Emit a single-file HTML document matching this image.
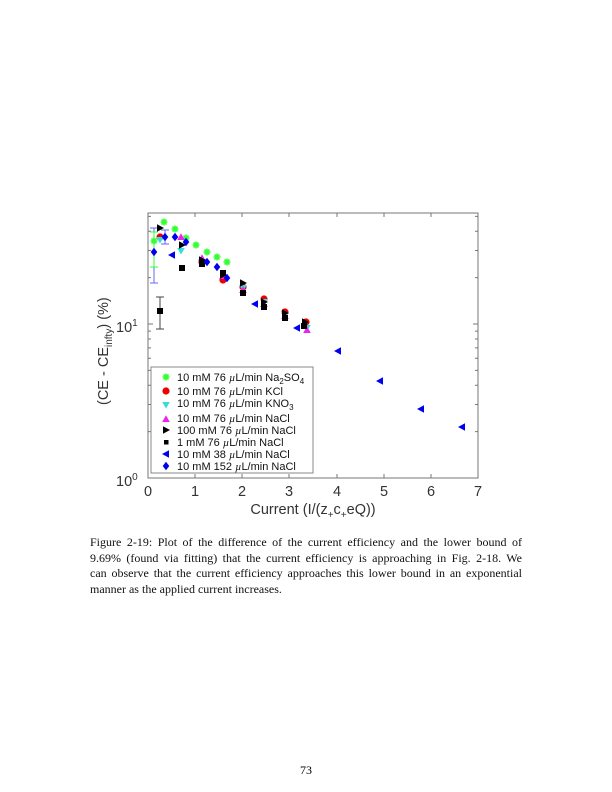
<!DOCTYPE html>
<html><head><meta charset="utf-8"><style>
body{margin:0;background:#fff;width:612px;height:792px;position:relative;overflow:hidden}
.cap{position:absolute;left:90px;top:535px;width:432px;font-family:"Liberation Serif",serif;font-size:12px;line-height:15.6px;color:#111}
.cap div{text-align:justify;text-align-last:justify;white-space:nowrap}
.cap div.l{text-align-last:left}
.pn{position:absolute;left:0;width:612px;top:763px;text-align:center;font-family:"Liberation Serif",serif;font-size:12px}
</style></head><body>
<svg width="612" height="792" style="position:absolute;left:0;top:0" font-family="Liberation Sans, sans-serif">
<defs>
<g id="st"><path d="M-3.5,0H3.5M0,-3.5V3.5M-2.5,-2.5L2.5,2.5M-2.5,2.5L2.5,-2.5" stroke="#3f3" stroke-width="1.6"/></g>
<circle id="rc" r="3.6" fill="#e00"/>
<path id="cd" d="M-3.8,-3H3.8L0,3.5Z" fill="#3dd"/>
<path id="mu" d="M-3.8,3H3.8L0,-3.8Z" fill="#e2e"/>
<path id="kr" d="M-3,-3.8L4,0L-3,3.8Z" fill="#000"/>
<rect id="ks" x="-3" y="-3" width="6" height="6" fill="#000"/>
<path id="bl" d="M3,-3.8L-4,0L3,3.8Z" fill="#00e"/>
<path id="bd" d="M0,-4.2L3.3,0L0,4.2L-3.3,0Z" fill="#00e"/>
</defs>
<rect x="148" y="213" width="330" height="265" fill="none" stroke="#777" stroke-width="1"/>
<g stroke="#777" stroke-width="1">
<path d="M195,478v-4M242,478v-4M289,478v-4M337,478v-4M384,478v-4M431,478v-4M195,213v4M242,213v4M289,213v4M337,213v4M384,213v4M431,213v4"/>
<path d="M148,324h5M478,324h-5M148,431.6h3M148,404.5h3M148,385.3h3M148,370.4h3M148,358.2h3M148,347.9h3M148,339h3M148,331.1h3M148,277.6h3M148,250.5h3M148,231.3h3M148,216.4h3M478,431.6h-3M478,404.5h-3M478,385.3h-3M478,370.4h-3M478,358.2h-3M478,347.9h-3M478,339h-3M478,331.1h-3M478,277.6h-3M478,250.5h-3M478,231.3h-3M478,216.4h-3"/>
</g>
<g font-size="14.5" fill="#333" text-anchor="middle">
<text x="148" y="496">0</text><text x="195" y="496">1</text><text x="242" y="496">2</text><text x="289" y="496">3</text><text x="337" y="496">4</text><text x="384" y="496">5</text><text x="431" y="496">6</text><text x="478" y="496">7</text>
<text x="313" y="514">Current (I/(z<tspan font-size="10" dy="4">+</tspan><tspan dy="-4">c</tspan><tspan font-size="10" dy="4">+</tspan><tspan dy="-4">eQ))</tspan></text>
</g>
<text x="116" y="486" font-size="14.5" fill="#333">10<tspan font-size="10" dy="-6">0</tspan></text>
<text x="116" y="332" font-size="14.5" fill="#333">10<tspan font-size="10" dy="-6">1</tspan></text>
<text transform="translate(108,405) rotate(-90)" font-size="14.5" fill="#333">(CE - CE<tspan font-size="10" dy="4">infty</tspan><tspan dy="-4">) (%)</tspan></text>
<g stroke-width="1">
<path d="M160,297v32M156,297h8M156,329h8" stroke="#444"/>
<path d="M154,228v55M150,228h8M150,283h8" stroke="#66f"/>
<path d="M154,232v35M150,232h8M150,267h8" stroke="#3f3"/>
<path d="M165,230v14M161,230h8M161,244h8" stroke="#66f"/>
</g>
<use href="#st" x="154" y="241"/><use href="#st" x="164" y="222"/><use href="#st" x="175" y="229"/><use href="#st" x="186" y="238"/><use href="#st" x="196" y="245"/><use href="#st" x="207" y="252"/><use href="#st" x="217" y="257"/><use href="#st" x="227" y="262"/>
<use href="#rc" x="160" y="237"/><use href="#rc" x="202" y="262"/><use href="#rc" x="223" y="280"/><use href="#rc" x="243" y="287"/><use href="#rc" x="264" y="299"/><use href="#rc" x="285" y="312"/><use href="#rc" x="306" y="322"/>
<use href="#cd" x="160" y="240"/><use href="#cd" x="181" y="251"/><use href="#cd" x="202" y="262"/><use href="#cd" x="243" y="288"/><use href="#cd" x="264" y="302"/><use href="#cd" x="285" y="315"/><use href="#cd" x="307" y="328"/>
<use href="#mu" x="181" y="237"/><use href="#mu" x="202" y="258"/><use href="#mu" x="223" y="276"/><use href="#mu" x="243" y="290"/><use href="#mu" x="264" y="304"/><use href="#mu" x="285" y="316"/><use href="#mu" x="307" y="330"/>
<use href="#kr" x="160" y="228"/><use href="#kr" x="182" y="245"/><use href="#kr" x="202" y="260"/><use href="#kr" x="223" y="275"/><use href="#kr" x="243" y="283"/><use href="#kr" x="264" y="302"/><use href="#kr" x="285" y="313"/><use href="#kr" x="305" y="322"/>
<use href="#ks" x="160" y="311"/><use href="#ks" x="182" y="268"/><use href="#ks" x="202" y="264"/><use href="#ks" x="223" y="273"/><use href="#ks" x="243" y="293"/><use href="#ks" x="264" y="307"/><use href="#ks" x="285" y="318"/><use href="#ks" x="304" y="326"/>
<use href="#bl" x="172" y="255"/><use href="#bl" x="255" y="304"/><use href="#bl" x="297" y="328"/><use href="#bl" x="338" y="351"/><use href="#bl" x="380" y="381"/><use href="#bl" x="421" y="409"/><use href="#bl" x="462" y="427"/>
<use href="#bd" x="154" y="252"/><use href="#bd" x="165" y="237"/><use href="#bd" x="175" y="237"/><use href="#bd" x="186" y="242"/><use href="#bd" x="207" y="262"/><use href="#bd" x="217" y="267"/><use href="#bd" x="227" y="278"/>
<rect x="151" y="367" width="162" height="106" fill="#fff" stroke="#888"/>
<g font-size="11" fill="#111">
<use href="#st" x="166" y="377"/><text x="177" y="381">10 mM 76 <tspan font-style="italic" font-family="Liberation Serif, serif">µ</tspan>L/min Na<tspan font-size="8" dy="3">2</tspan><tspan dy="-3">SO</tspan><tspan font-size="8" dy="3">4</tspan></text>
<use href="#rc" x="166" y="391"/><text x="177" y="395">10 mM 76 <tspan font-style="italic" font-family="Liberation Serif, serif">µ</tspan>L/min KCl</text>
<use href="#cd" x="166" y="405"/><text x="177" y="407">10 mM 76 <tspan font-style="italic" font-family="Liberation Serif, serif">µ</tspan>L/min KNO<tspan font-size="8" dy="3">3</tspan></text>
<use href="#mu" x="166" y="419"/><text x="177" y="422">10 mM 76 <tspan font-style="italic" font-family="Liberation Serif, serif">µ</tspan>L/min NaCl</text>
<use href="#kr" x="166" y="430"/><text x="177" y="434">100 mM 76 <tspan font-style="italic" font-family="Liberation Serif, serif">µ</tspan>L/min NaCl</text>
<rect x="164" y="440" width="4.5" height="4.5" fill="#000"/><text x="177" y="446">1 mM 76 <tspan font-style="italic" font-family="Liberation Serif, serif">µ</tspan>L/min NaCl</text>
<use href="#bl" x="166" y="454"/><text x="177" y="458">10 mM 38 <tspan font-style="italic" font-family="Liberation Serif, serif">µ</tspan>L/min NaCl</text>
<use href="#bd" x="166" y="466"/><text x="177" y="470">10 mM 152 <tspan font-style="italic" font-family="Liberation Serif, serif">µ</tspan>L/min NaCl</text>
</g>
</svg>
<div class="cap">
<div>Figure 2-19: Plot of the difference of the current efficiency and the lower bound of</div>
<div>9.69% (found via fitting) that the current efficiency is approaching in Fig. 2-18. We</div>
<div>can observe that the current efficiency approaches this lower bound in an exponential</div>
<div class="l">manner as the applied current increases.</div>
</div>
<div class="pn">73</div>
</body></html>
